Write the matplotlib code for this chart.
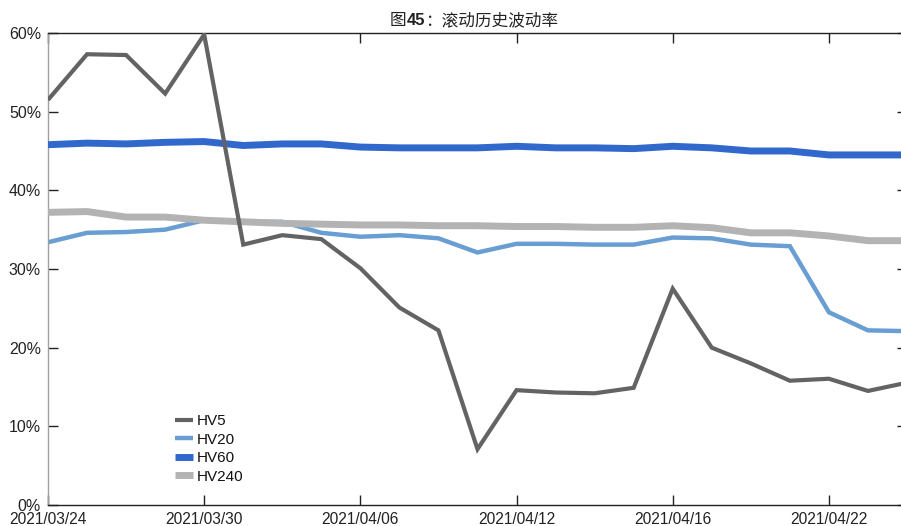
import matplotlib
matplotlib.use('Agg')
import matplotlib.pyplot as plt
from matplotlib.ticker import FuncFormatter, FixedLocator

dates = ['2021/03/24', '2021/03/25', '2021/03/26', '2021/03/29', '2021/03/30',
         '2021/03/31', '2021/04/01', '2021/04/02', '2021/04/06', '2021/04/07',
         '2021/04/08', '2021/04/09', '2021/04/12', '2021/04/13', '2021/04/14',
         '2021/04/15', '2021/04/16', '2021/04/19', '2021/04/20', '2021/04/21',
         '2021/04/22', '2021/04/23', '2021/04/26']
hv5 = [51.5, 57.3, 57.2, 52.3, 59.8, 33.1, 34.3, 33.8, 30.1, 25.1, 22.2, 7.1,
       14.6, 14.3, 14.2, 14.9, 27.5, 20.0, 18.0, 15.8, 16.05, 14.5, 15.55]
hv20 = [33.4, 34.6, 34.7, 35.0, 36.2, 36.0, 36.0, 34.6, 34.1, 34.3, 33.9, 32.1,
        33.2, 33.2, 33.1, 33.1, 34.0, 33.9, 33.1, 32.9, 24.5, 22.2, 22.1]
hv60 = [45.8, 46.0, 45.9, 46.1, 46.2, 45.7, 45.9, 45.9, 45.5, 45.4, 45.4, 45.4,
        45.6, 45.4, 45.4, 45.3, 45.6, 45.4, 45.0, 45.0, 44.5, 44.5, 44.5]
hv240 = [37.2, 37.3, 36.6, 36.6, 36.2, 36.0, 35.8, 35.7, 35.6, 35.6, 35.5, 35.5,
         35.4, 35.4, 35.3, 35.3, 35.5, 35.25, 34.6, 34.6, 34.2, 33.6, 33.6]
series_names = ['HV5', 'HV20', 'HV60', 'HV240']
tick_dates = ['2021/03/24', '2021/03/30', '2021/04/06', '2021/04/12',
              '2021/04/16', '2021/04/22']
y_ticks = [0, 10, 20, 30, 40, 50, 60]

LAT = 'Liberation Sans'
CJK = 'Noto Sans CJK SC'
plt.rcParams['font.family'] = [LAT, CJK, 'DejaVu Sans']

W, H = 901, 526
fig = plt.figure(figsize=(W / 100, H / 100), dpi=100)
ax = fig.add_axes([48 / W, 21 / H, (907 - 48) / W, (505 - 33) / H])

x = list(range(len(dates)))
styles = {
    'HV5': dict(color='#636363', lw=3.0, zorder=5),
    'HV20': dict(color='#699ed3', lw=3.2, zorder=2),
    'HV60': dict(color='#3068cc', lw=5.0, zorder=3),
    'HV240': dict(color='#b3b3b3', lw=5.0, zorder=4),
}
data = {'HV5': hv5, 'HV20': hv20, 'HV60': hv60, 'HV240': hv240}
for name in series_names:
    ax.plot(x, data[name], label=name, solid_joinstyle='miter',
            solid_capstyle='butt', **styles[name])

ax.set_xlim(0, len(dates) - 1)
ax.set_ylim(0, 60)
ax.xaxis.set_major_locator(FixedLocator([dates.index(d) for d in tick_dates]))
ax.set_xticklabels(tick_dates)
ax.yaxis.set_major_locator(FixedLocator(y_ticks))
ax.yaxis.set_major_formatter(FuncFormatter(lambda v, p: f'{v:.0f}%'))

ax.tick_params(axis='both', direction='in', length=7, width=1, color='#222222',
               labelsize=11.5, labelcolor='#222222', pad=4)
ax.tick_params(axis='x', top=True, pad=5, labelsize=11.2)
ax.tick_params(axis='y', right=True, pad=5)
ax.spines['right'].set_visible(False)
ax.spines['left'].set_color('#a0a0a0')
ax.spines['top'].set_color('#222222')
ax.spines['bottom'].set_color('#222222')
for s in ax.spines.values():
    s.set_linewidth(1.0)

leg = ax.legend(loc='upper left', bbox_to_anchor=(175 / W, 1 - 414 / H),
                bbox_transform=fig.transFigure, frameon=False, fontsize=11,
                handlelength=1.2, handletextpad=0.25, labelspacing=0.3,
                borderpad=0, borderaxespad=0)
for t in leg.get_texts():
    t.set_color('#111111')

# Title composed of segments (the number is bold)
fig.canvas.draw()
r = fig.canvas.get_renderer()
segs = [('图', CJK, 'normal'), ('45', LAT, 'bold'), ('：滚动历史波动率', CJK, 'normal')]
objs = []
for s, fam, wt in segs:
    t = fig.text(0, 0, s, fontsize=12, family=[fam, 'DejaVu Sans'],
                 fontweight=wt, color='#222222', va='baseline', ha='left')
    objs.append(t)
widths = [t.get_window_extent(r).width for t in objs]
cx = 474
xpos = cx - sum(widths) / 2
base_y = 1 - 25 / H
for t, w in zip(objs, widths):
    t.set_position((xpos / W, base_y))
    xpos += w

fig.savefig('out.png', dpi=100)
